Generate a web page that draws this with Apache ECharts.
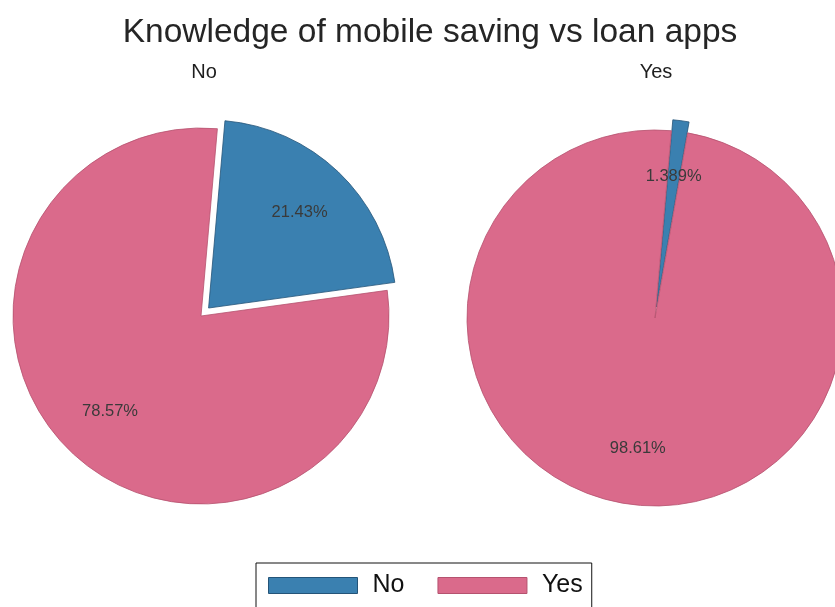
<!DOCTYPE html>
<html>
<head>
<meta charset="utf-8">
<script src="https://cdn.jsdelivr.net/npm/echarts@6/dist/echarts.min.js"></script>
<style>
  html, body { margin: 0; padding: 0; background: #fff; }
  #chart { width: 835px; height: 607px; }
</style>
</head>
<body>
<div id="chart"></div>
<script>
// Panels (knows about mobile saving apps) and answers (knows about loan apps)
const panelTitles = ['No', 'Yes'];
const answerNames = ['No', 'Yes'];
const noPanelPct = [21.43, 78.57];
const yesPanelPct = [1.389, 98.61];

const BLUE = '#3A80B0';
const PINK = '#DA6A8B';
const BLUE_EDGE = '#245478';
const PINK_EDGE = '#b5526f';
const FONT = '"Liberation Sans", Arial, sans-serif';

const panelValues = [noPanelPct, yesPanelPct];
const centers = [[201, 316], [655, 318]];
const R = 188;

function sliceData(values, hidden) {
  return values.map((v, i) => ({
    name: answerNames[i],
    value: v,
    selected: i === 0,
    itemStyle: hidden
      ? { color: 'rgba(0,0,0,0)', borderWidth: 0 }
      : { color: i === 0 ? BLUE : PINK, borderColor: i === 0 ? BLUE_EDGE : PINK_EDGE, borderWidth: 0.8 }
  }));
}

const series = [];
panelValues.forEach((vals, p) => {
  // filled slices
  series.push({
    type: 'pie',
    center: centers[p],
    radius: [0, R],
    startAngle: 85,
    clockwise: true,
    selectedMode: 'single',
    selectedOffset: 11,
    silent: true,
    label: { show: false },
    labelLine: { show: false },
    emphasis: { disabled: true },
    data: sliceData(vals, false)
  });
  // percentage labels, placed at ~0.68 of the radius
  series.push({
    type: 'pie',
    center: centers[p],
    radius: [0, 258],
    startAngle: 85,
    clockwise: true,
    selectedMode: 'single',
    selectedOffset: 11,
    silent: true,
    z: 5,
    label: {
      show: true,
      position: 'inside',
      formatter: (d) => d.value + '%',
      fontFamily: FONT,
      fontSize: 16.5,
      color: '#3a3a3a'
    },
    labelLine: { show: false },
    emphasis: { disabled: true },
    data: sliceData(vals, true)
  });
});

const chart = echarts.init(document.getElementById('chart'), null, { renderer: 'canvas' });
chart.setOption({
  animation: false,
  backgroundColor: '#ffffff',
  title: [
    {
      text: 'Knowledge of mobile saving vs loan apps',
      left: 425, top: 11, textAlign: 'center',
      textStyle: { fontFamily: FONT, fontSize: 33.5, fontWeight: 'normal', color: '#252525' }
    },
    {
      text: panelTitles[0],
      left: 199, top: 57, textAlign: 'center',
      textStyle: { fontFamily: FONT, fontSize: 20, fontWeight: 'normal', color: '#1e1e1e' }
    },
    {
      text: panelTitles[1],
      left: 651, top: 57, textAlign: 'center',
      textStyle: { fontFamily: FONT, fontSize: 20, fontWeight: 'normal', color: '#1e1e1e' }
    }
  ],
  legend: {
    left: 256,
    top: 563,
    orient: 'horizontal',
    selectedMode: false,
    icon: 'rect',
    itemWidth: 89,
    itemHeight: 16,
    itemGap: 33,
    padding: [10, 9, 14, 12],
    borderColor: '#111',
    borderWidth: 1,
    textStyle: { fontFamily: FONT, fontSize: 25, color: '#111', padding: [0, 0, 0, 10] },
    data: [
      { name: answerNames[0], itemStyle: { color: BLUE, borderColor: BLUE_EDGE, borderWidth: 1 } },
      { name: answerNames[1], itemStyle: { color: PINK, borderColor: PINK_EDGE, borderWidth: 1 } }
    ]
  },
  series: series
});
</script>
</body>
</html>
